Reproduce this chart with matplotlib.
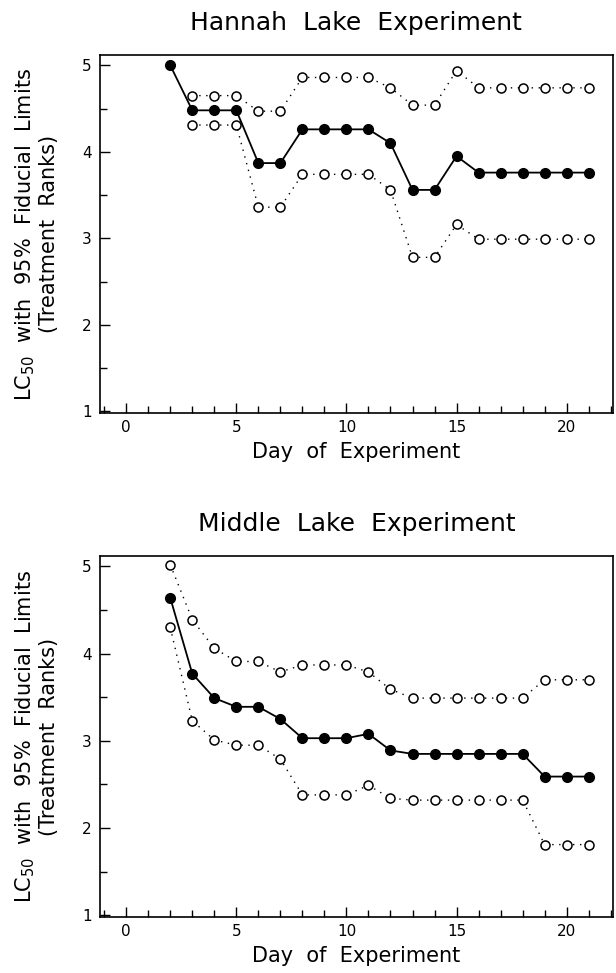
import numpy as np
import matplotlib
matplotlib.use("Agg")
import matplotlib.pyplot as plt
from matplotlib.ticker import MultipleLocator

# Hannah Lake: LC50 estimate and 95% fiducial limits, days 2-21
hannah_days = list(range(2, 22))
hannah_lc50 = [5.00, 4.48, 4.48, 4.48, 3.87, 3.87, 4.26, 4.26, 4.26, 4.26,
               4.10, 3.56, 3.56, 3.95, 3.76, 3.76, 3.76, 3.76, 3.76, 3.76]
hannah_bound_days = list(range(3, 22))
hannah_upper = [4.65, 4.65, 4.65, 4.47, 4.47, 4.86, 4.86, 4.86, 4.86, 4.74,
                4.54, 4.54, 4.94, 4.74, 4.74, 4.74, 4.74, 4.74, 4.74]
hannah_lower = [4.31, 4.31, 4.31, 3.36, 3.36, 3.74, 3.74, 3.74, 3.74, 3.56,
                2.78, 2.78, 3.16, 2.99, 2.99, 2.99, 2.99, 2.99, 2.99]

# Middle Lake
middle_days = list(range(2, 22))
middle_lc50 = [4.64, 3.77, 3.49, 3.39, 3.39, 3.25, 3.03, 3.03, 3.03, 3.08,
               2.89, 2.85, 2.85, 2.85, 2.85, 2.85, 2.85, 2.59, 2.59, 2.59]
middle_upper = [5.02, 4.39, 4.06, 3.91, 3.91, 3.79, 3.87, 3.87, 3.87, 3.79,
                3.59, 3.49, 3.49, 3.49, 3.49, 3.49, 3.49, 3.70, 3.70, 3.70]
middle_lower = [4.30, 3.23, 3.01, 2.95, 2.95, 2.79, 2.38, 2.38, 2.38, 2.49,
                2.34, 2.32, 2.32, 2.32, 2.32, 2.32, 2.32, 1.81, 1.81, 1.81]

plt.rcParams['font.family'] = 'DejaVu Sans'

fig = plt.figure(figsize=(6.16, 9.73), dpi=100)
ax1 = fig.add_axes([0.162, 0.5755, 0.833, 0.368])
ax2 = fig.add_axes([0.162, 0.0576, 0.833, 0.371])

dots = (0, (1, 4))


def draw_panel(ax, title, days, mean, bdays, upper, lower):
    for bound in (upper, lower):
        ax.plot(bdays, bound, ls=dots, lw=1.0, color='black', marker='o', ms=6.5,
                mfc='white', mec='black', mew=1.1, zorder=2)
    ax.plot(days, mean, ls='-', lw=1.3, color='black', marker='o', ms=7,
            mfc='black', mec='black', zorder=3)
    ax.set_xlim(-1.2, 22.1)
    ax.set_ylim(0.98, 5.12)
    ax.xaxis.set_major_locator(MultipleLocator(5))
    ax.xaxis.set_minor_locator(MultipleLocator(1))
    ax.yaxis.set_major_locator(MultipleLocator(1))
    ax.yaxis.set_minor_locator(MultipleLocator(0.5))
    ax.tick_params(which='major', direction='in', length=7, width=1, labelsize=11)
    ax.tick_params(which='minor', direction='in', length=5, width=1)
    ax.tick_params(axis='x', pad=5)
    ax.tick_params(axis='y', pad=6)
    for s in ax.spines.values():
        s.set_linewidth(1.2)
    ax.set_title(title, fontsize=18, pad=18)
    ax.set_xlabel('Day  of  Experiment', fontsize=15, labelpad=5)
    ax.set_ylabel('LC$_{50}$  with  95%  Fiducial  Limits\n(Treatment  Ranks)',
                  fontsize=15, labelpad=16, linespacing=1.15)


draw_panel(ax1, 'Hannah  Lake  Experiment', hannah_days, hannah_lc50,
           hannah_bound_days, hannah_upper, hannah_lower)
draw_panel(ax2, 'Middle  Lake  Experiment', middle_days, middle_lc50,
           middle_days, middle_upper, middle_lower)

fig.savefig('out.png', dpi=100)
